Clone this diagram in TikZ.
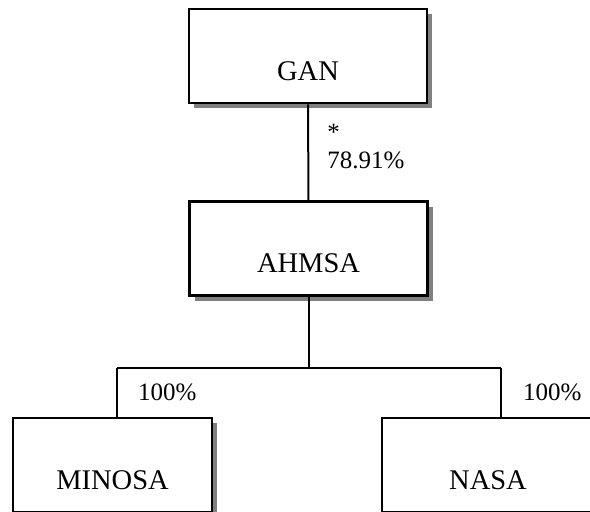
\documentclass[tikz,border=0pt]{standalone}
\usepackage{fontspec}
\setmainfont{Liberation Serif}
\usetikzlibrary{shadows}

\begin{document}
\begin{tikzpicture}[
    x=1pt, y=-1pt,
    entity box/.style={
        draw=black, fill=white, line width=2.6pt,
        minimum width=238pt, minimum height=94pt,
        text height=48pt, text depth=0pt,
        font=\fontsize{28.5}{34}\selectfont,
        drop shadow={shadow xshift=5pt, shadow yshift=-5pt,
                     fill=black!50, opacity=1}
    },
    stake line/.style={draw=black, line width=2pt},
    stake label/.style={font=\fontsize{25}{27.5}\selectfont,
        align=left, inner sep=0pt}
]
    \clip (0,0) rectangle (590,512);

    \node[entity box] (gan) at (308,56) {GAN};
    \node[entity box] (ahmsa) at (308.5,248.5) {AHMSA};
    \node[entity box, minimum width=199pt] (minosa) at (112.5,465) {MINOSA};
    \node[entity box, minimum width=212pt] (nasa) at (488,465) {NASA};

    \draw[stake line] (gan.south) --
        node[stake label, anchor=west, xshift=18pt, yshift=6pt]
        {*\\78.91\%} (ahmsa.north);

    % subsidiaries
    \coordinate (bus) at (ahmsa.south |- 0,368);
    \coordinate (bus left) at (117,368);
    \coordinate (bus right) at (501,368);
    \draw[stake line] (ahmsa.south) -- (bus);
    \draw[stake line] (bus left) -- (bus right);
    \draw[stake line] (bus left) --
        node[stake label, anchor=west, xshift=20pt] {100\%}
        (bus left |- minosa.north);
    \draw[stake line] (bus right) --
        node[stake label, anchor=west, xshift=21pt] {100\%}
        (bus right |- nasa.north);

\end{tikzpicture}
\end{document}
